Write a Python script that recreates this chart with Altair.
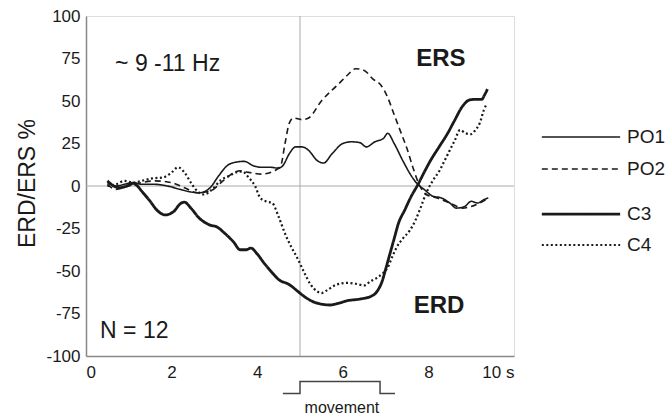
import altair as alt
import pandas as pd

# Band-power change (%) over time for four electrodes, ~9-11 Hz band
po1_t = [0.5, 0.7, 0.9, 1.1, 1.3, 1.6, 1.9, 2.2, 2.45, 2.65, 2.9, 3.1, 3.3, 3.5, 3.7, 3.9, 4.1,
         4.3, 4.5, 4.6, 4.75, 4.9, 5.05, 5.2, 5.4, 5.55, 5.75, 6.0, 6.2, 6.4, 6.55, 6.75, 6.95,
         7.05, 7.2, 7.4, 7.6, 7.75, 7.9, 8.1, 8.3, 8.5, 8.65, 8.85, 9.0, 9.15, 9.3, 9.4]
po1_v = [2, 0, 1, 2, 1, 1, 0, -2, -3.5, -4, -1, 6, 12, 14, 14.5, 12, 11,
         11, 10.5, 12, 19, 23, 23, 21, 15, 13.5, 19, 25, 26, 25.5, 23, 26, 28,
         31, 25, 15, 6, 1, -2, -6, -7, -10, -13, -12, -9, -10, -8, -7]

po2_t = [0.5, 0.7, 1.0, 1.3, 1.6, 2.0, 2.3, 2.6, 2.9, 3.2, 3.4, 3.6, 3.8, 4.1, 4.4, 4.55, 4.65,
         4.75, 4.85, 5.05, 5.2, 5.5, 5.9, 6.1, 6.3, 6.5, 6.7, 6.9, 7.05, 7.2, 7.35, 7.5, 7.65,
         7.8, 7.95, 8.2, 8.5, 8.8, 9.0, 9.2, 9.35]
po2_v = [1, -2, 0, 2, 3, 2, -1, -4, -3, 3, 7, 9, 8, 7, 9, 12, 25,
         37, 40, 39, 40, 50, 60, 65, 69, 68, 63, 59, 52, 42, 32, 22, 10,
         0, -5, -7, -10, -13, -12, -10, -8]

c3_t = [0.5, 0.65, 0.8, 1.0, 1.1, 1.2, 1.3, 1.5, 1.65, 1.85, 2.05, 2.2, 2.3, 2.45, 2.65, 2.9,
        3.05, 3.25, 3.45, 3.6, 3.75, 3.85, 4.0, 4.15, 4.35, 4.5, 4.75, 4.95, 5.1, 5.3, 5.5, 5.7,
        5.9, 6.1, 6.4, 6.65, 6.8, 6.92, 7.0, 7.1, 7.2, 7.3, 7.45, 7.6, 7.75, 7.9, 8.05, 8.25,
        8.45, 8.6, 8.8, 8.95, 9.1, 9.25, 9.3, 9.38]
c3_v = [3, 0, -1, 0.5, 1.5, 0, -3, -9, -14, -17, -15, -10.5, -9.5, -13, -19, -23,
        -24, -28, -33, -37.5, -37.5, -36.5, -40, -45, -51, -55, -58, -62, -65, -68, -69.5, -70,
        -69, -67.5, -66.5, -65, -62, -56, -49, -40, -31, -22, -14, -6, 0.6, 8, 15, 23,
        31, 38, 47, 50.5, 51, 51, 53, 57]

c4_t = [0.5, 0.7, 0.9, 1.1, 1.3, 1.55, 1.8, 2.0, 2.15, 2.3, 2.45, 2.6, 2.75, 2.95, 3.15, 3.35,
        3.5, 3.65, 3.8, 3.95, 4.07, 4.2, 4.35, 4.5, 4.65, 4.8, 4.95, 5.1, 5.25, 5.4, 5.5, 5.65,
        5.85, 6.1, 6.3, 6.5, 6.65, 6.8, 6.95, 7.05, 7.15, 7.26, 7.4, 7.57, 7.7, 7.8, 7.95, 8.1,
        8.27, 8.4, 8.5, 8.62, 8.74, 8.87, 9.0, 9.1, 9.2, 9.3, 9.36]
c4_v = [0, 1, 3, 2, 3, 4.5, 5, 8, 11, 8, 2, -3, -5, -2, 3.5, 6,
        8, 8.5, 5, 0, -7, -9, -10, -18, -28, -36, -43, -51, -58, -62, -63, -61,
        -58, -57, -57.5, -58.5, -56, -54, -51, -48, -42, -36, -31, -26, -20, -14, -4, 3,
        9.5, 16, 21, 27, 33, 31, 30.5, 33, 37, 45, 48]

series_names = ["PO1", "PO2", "C3", "C4"]
series_t = [po1_t, po2_t, c3_t, c4_t]
series_v = [po1_v, po2_v, c3_v, c4_v]
series_dash = [[1, 0], [6, 4], [1, 0], [2, 2.5]]
series_width = [1.6, 1.6, 2.8, 2.2]

# Legend rows (drawn in data space to the right of the plot)
legend_y = [28.8, 10, -16.5, -34.7]
legend_x0, legend_x1, legend_xt = 10.65, 12.48, 12.64

# Movement period marker under the time axis
move_t = [4.6, 5.0, 5.0, 6.87, 6.87, 7.22]
move_v = [-122, -122, -115, -115, -122, -122]

ink = "#1a1a1a"
font = "Liberation Sans"

x_scale = alt.Scale(domain=[0, 10], nice=False)
y_scale = alt.Scale(domain=[-100, 100], nice=False)

x_axis = alt.Axis(values=[0, 2, 4, 6, 8, 10], labelExpr="datum.value == 10 ? '10 s' : '' + datum.value",
                  title=None, grid=False, ticks=False, labelPadding=8, labelFontSize=17,
                  labelFont=font, labelColor=ink, domainColor="#888", domainWidth=1.5)
y_axis = alt.Axis(values=[-100, -75, -50, -25, 0, 25, 50, 75, 100], labelExpr="'' + datum.value",
                  title="ERD/ERS %",
                  grid=False, ticks=False, labelPadding=6, labelFontSize=17, labelFont=font,
                  labelColor=ink, domainColor="#888", domainWidth=1.5,
                  titleFontSize=23, titleFont=font, titleFontWeight="normal", titleColor=ink,
                  titleAngle=-90, titleX=-52, titleY=167, titleAlign="center",
                  titleBaseline="alphabetic")

# Reference lines at movement onset and zero change
ref_v = alt.Chart(pd.DataFrame({"t": [5.0]})).mark_rule(color="#aaa", strokeWidth=1).encode(
    x=alt.X("t:Q", scale=x_scale, axis=x_axis))
ref_h = alt.Chart(pd.DataFrame({"v": [0.0]})).mark_rule(color="#aaa", strokeWidth=1).encode(
    y=alt.Y("v:Q", scale=y_scale, axis=y_axis))

layers = [ref_v, ref_h]
for name, t, v, dash, w in zip(series_names, series_t, series_v, series_dash, series_width):
    df = pd.DataFrame({"t": t, "v": v})
    layers.append(
        alt.Chart(df).mark_line(color=ink, strokeWidth=w, strokeDash=dash,
                                interpolate="monotone").encode(
            x=alt.X("t:Q", scale=x_scale),
            y=alt.Y("v:Q", scale=y_scale),
            order="t:Q")
    )

# Legend keys and labels
for name, ly, dash, w in zip(series_names, legend_y, series_dash, series_width):
    key = pd.DataFrame({"x0": [legend_x0], "x1": [legend_x1], "y": [ly], "lab": [name],
                        "xt": [legend_xt]})
    layers.append(alt.Chart(key).mark_rule(color=ink, strokeWidth=w, strokeDash=dash).encode(
        x=alt.X("x0:Q", scale=x_scale), x2="x1:Q", y=alt.Y("y:Q", scale=y_scale)))
    layers.append(alt.Chart(key).mark_text(align="left", baseline="middle", fontSize=19,
                                           font=font, color=ink).encode(
        x=alt.X("xt:Q", scale=x_scale), y=alt.Y("y:Q", scale=y_scale), text="lab:N"))

# Annotations inside the plot
notes = pd.DataFrame({
    "t": [0.68, 8.29, 8.25, 0.33],
    "v": [71.8, 74.7, -70.6, -85.3],
    "txt": ["~ 9 -11 Hz", "ERS", "ERD", "N = 12"],
})
layers.append(alt.Chart(notes[notes.txt.isin(["~ 9 -11 Hz", "N = 12"])]).mark_text(
    align="left", baseline="middle", fontSize=23, font=font, color=ink).encode(
    x=alt.X("t:Q", scale=x_scale), y=alt.Y("v:Q", scale=y_scale), text="txt:N"))
layers.append(alt.Chart(notes[notes.txt.isin(["ERS", "ERD"])]).mark_text(
    align="center", baseline="middle", fontSize=24, fontWeight="bold", font=font,
    color=ink).encode(
    x=alt.X("t:Q", scale=x_scale), y=alt.Y("v:Q", scale=y_scale), text="txt:N"))

# Movement bracket and its label
move = pd.DataFrame({"t": move_t, "v": move_v, "i": list(range(len(move_t)))})
layers.append(alt.Chart(move).mark_line(color="#444", strokeWidth=1.5).encode(
    x=alt.X("t:Q", scale=x_scale), y=alt.Y("v:Q", scale=y_scale), order="i:Q"))
layers.append(alt.Chart(pd.DataFrame({"t": [5.98], "v": [-130.3], "txt": ["movement"]})).mark_text(
    align="center", baseline="middle", fontSize=16, font=font, color=ink).encode(
    x=alt.X("t:Q", scale=x_scale), y=alt.Y("v:Q", scale=y_scale), text="txt:N"))

chart = alt.layer(*layers).properties(
    width=428, height=340,
    autosize=alt.AutoSizeParams(type="none"),
    padding={"left": 86, "top": 16, "right": 154, "bottom": 61},
).configure_view(stroke="#888", strokeWidth=1.5).configure(background="white")

chart.save("out.html", embed_options={"renderer": "svg", "actions": False})
